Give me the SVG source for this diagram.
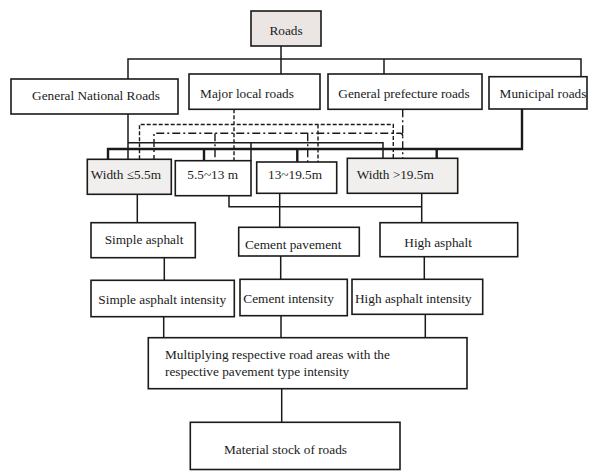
<svg xmlns="http://www.w3.org/2000/svg" width="589" height="471" viewBox="0 0 589 471">
<style>
.box{fill:#ffffff;stroke:#1a1a1a;stroke-width:1.6}
.grey{fill:#ebe6e4}
.lgrey{fill:#f1efee}
text{font-family:"Liberation Serif","Times New Roman",serif;font-size:13.3px;fill:#1a1a1a}
.c{text-anchor:middle}
.ln{fill:none;stroke:#1a1a1a;stroke-width:1.5}
.thick{fill:none;stroke:#1a1a1a;stroke-width:2.4}
.dash{fill:none;stroke:#1a1a1a;stroke-width:1.4;stroke-dasharray:4 2}
.dd{fill:none;stroke:#1a1a1a;stroke-width:1.4;stroke-dasharray:8 3 2 3}
</style>
<rect width="589" height="471" fill="#ffffff"/>
<g id="connectors">
<path class="ln" d="M128,79 V59 H581 V76.7 M281,45.7 V74 M384,59 V74"/>
<path class="ln" d="M128,114 V159.3 M128,142.7 H383 V158.3 M251,142.7 V160.7"/>
<path class="thick" d="M522,109 V149 H108 V159.3 M204,149 V160.7 M297.3,149 V162 M436.7,149 V158.3"/>
<path class="dash" d="M234,109.3 V160.7 M139.5,159.3 V124.5 H393.3 V158.3 M318,124.5 V162"/>
<path class="dd" d="M402.7,109.3 V158.3 M402.7,136 Q402.7,133.3 400,133.3 H154 V159.3 M215,133.3 V160.7 M307.7,133.3 V162"/>
<path class="ln" d="M137.3,194.3 V222.7 M229,195.7 V206.7 H421.7 M421.7,193.3 V222.7 M279.7,193.3 V227.3"/>
<path class="ln" d="M164.3,257.7 V280.3 M280.7,256 V279.3 M424.3,256.7 V279.3"/>
<path class="ln" d="M163.7,316.7 V337.7 M281,315.7 V337.7 M425.3,314.3 V337.7"/>
<path class="ln" d="M281.7,388.7 V422.3"/>
</g>
<g id="roads"><rect class="box grey" x="251" y="11" width="70" height="35"/><text class="c" x="286" y="35">Roads</text></g>
<g id="general-national-roads"><rect class="box" x="11" y="79" width="167" height="35"/><text class="c" x="96" y="100">General National Roads</text></g>
<g id="major-local-roads"><rect class="box" x="189" y="74" width="131" height="35.3"/><text class="c" x="247" y="98">Major local roads</text></g>
<g id="general-prefecture-roads"><rect class="box" x="328" y="74" width="154" height="35.3"/><text class="c" x="404" y="97.5">General prefecture roads</text></g>
<g id="municipal-roads"><rect class="box" x="489" y="76.7" width="98" height="32.3"/><text class="c" x="543" y="97.5">Municipal roads</text></g>
<g id="width-le-5-5"><rect class="box lgrey" x="87.3" y="159.3" width="84" height="35"/><text x="90.7" y="179">Width ≤5.5m</text></g>
<g id="width-5-5-13"><rect class="box" x="175.3" y="160.7" width="75.7" height="35"/><text x="187.3" y="179">5.5~13 m</text></g>
<g id="width-13-19-5"><rect class="box" x="256.7" y="162" width="80" height="31.3"/><text x="268" y="179">13~19.5m</text></g>
<g id="width-gt-19-5"><rect class="box lgrey" x="347.3" y="158.3" width="110.4" height="35"/><text x="356.7" y="179">Width &gt;19.5m</text></g>
<g id="simple-asphalt"><rect class="box" x="91" y="222.7" width="104.3" height="35"/><text class="c" x="144" y="244">Simple asphalt</text></g>
<g id="cement-pavement"><rect class="box" x="238.7" y="227.3" width="120.6" height="28.7"/><text x="245" y="249.3">Cement pavement</text></g>
<g id="high-asphalt"><rect class="box" x="380" y="222.7" width="137.7" height="34"/><text x="404.3" y="246.7">High asphalt</text></g>
<g id="simple-asphalt-intensity"><rect class="box" x="91" y="280.3" width="143.3" height="36.4"/><text x="98.3" y="304">Simple asphalt intensity</text></g>
<g id="cement-intensity"><rect class="box" x="240" y="279.3" width="107.3" height="36.4"/><text x="243.3" y="302.7">Cement intensity</text></g>
<g id="high-asphalt-intensity"><rect class="box" x="352" y="279.3" width="130.7" height="35"/><text x="355" y="302.7">High asphalt intensity</text></g>
<g id="multiplying"><rect class="box" x="148.3" y="337.7" width="318.7" height="51"/><text x="165" y="358.5">Multiplying respective road areas with the</text><text x="165" y="375.5">respective pavement type intensity</text></g>
<g id="material-stock"><rect class="box" x="190.3" y="422.3" width="209.7" height="47.2"/><text x="224" y="454">Material stock of roads</text></g>
</svg>
